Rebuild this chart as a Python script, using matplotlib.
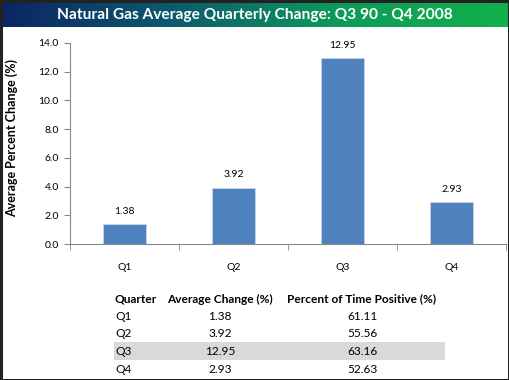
import numpy as np
import matplotlib.pyplot as plt
from matplotlib.colors import LinearSegmentedColormap
from matplotlib.patches import Rectangle

plt.rcParams['font.family'] = ['Lato', 'DejaVu Sans']

quarters = ['Q1', 'Q2', 'Q3', 'Q4']
avg_change = [1.38, 3.92, 12.95, 2.93]
pct_positive = [61.11, 55.56, 63.16, 52.63]
title = 'Natural Gas Average Quarterly Change: Q3 90 - Q4 2008'

W, H = 510, 380
fig = plt.figure(figsize=(W / 100, H / 100), dpi=100, facecolor='white')

def fx(px):
    return px / W

def fy(py):
    return 1 - py / H

# title banner with gradient
ban = fig.add_axes([fx(2), fy(27), fx(506), 25 / H])
grad = LinearSegmentedColormap.from_list('ban', ['#0b2563', '#0b5a6e', '#0f9a5a', '#12b04c'])
ban.imshow(np.linspace(0, 1, 256).reshape(1, -1), aspect='auto', cmap=grad,
           extent=[0, 1, 0, 1])
ban.set_axis_off()
ban.text(0.5, 0.5, title, color='white', fontsize=11.2, fontweight='bold',
         ha='center', va='center', transform=ban.transAxes)

# bar chart
ax = fig.add_axes([fx(70), fy(244), fx(436), 201 / H])
x = np.arange(len(quarters))
bars = ax.bar(x, avg_change, width=0.4, color='#4f81bd', edgecolor='#c7d6ea', linewidth=0.6)
ax.set_xlim(-0.5, 3.5)
ax.set_ylim(0, 14)
ax.set_yticks(np.arange(0, 14.1, 2))
ax.set_yticklabels(['%.1f' % v for v in np.arange(0, 14.1, 2)], fontsize=7.5)
ax.set_xticks(x)
ax.set_xticklabels(quarters, fontsize=7.5)
ax.set_xticks(np.arange(-0.5, 3.6, 1), minor=True)
ax.tick_params(axis='x', which='major', length=0, pad=14)
ax.tick_params(axis='x', which='minor', length=4, color='#888888', direction='out')
ax.tick_params(axis='y', length=4, color='#888888', pad=4)
for s in ['top', 'right']:
    ax.spines[s].set_visible(False)
for s in ['left', 'bottom']:
    ax.spines[s].set_color('#888888')
    ax.spines[s].set_linewidth(0.8)
for b, v in zip(bars, avg_change):
    ax.annotate('%.2f' % v, (b.get_x() + b.get_width() / 2, v), xytext=(0, 6),
                textcoords='offset points', ha='center', va='bottom', fontsize=7.5)
fig.text(fx(12), fy(138), 'Average Percent Change (%)', rotation=90, fontsize=9,
         fontweight='bold', ha='center', va='center')

# table below
fs = 8.6
fig.patches.append(Rectangle((fx(114), fy(360)), fx(331), 18 / H, transform=fig.transFigure,
                             facecolor='#d9d9d9', edgecolor='none'))
fig.text(fx(115), fy(299), 'Quarter', fontsize=fs, fontweight='bold', ha='left', va='center')
fig.text(fx(220), fy(299), 'Average Change (%)', fontsize=fs, fontweight='bold', ha='center', va='center')
fig.text(fx(362), fy(299), 'Percent of Time Positive (%)', fontsize=fs, fontweight='bold', ha='center', va='center')
for i, q in enumerate(quarters):
    yy = fy(316 + i * 17.7)
    fig.text(fx(115), yy, q, fontsize=fs, ha='left', va='center')
    fig.text(fx(220), yy, '%.2f' % avg_change[i], fontsize=fs, ha='center', va='center')
    fig.text(fx(362), yy, '%.2f' % pct_positive[i], fontsize=fs, ha='center', va='center')

# outer frame
fig.patches.append(Rectangle((0.5 / W, 0.5 / H), 1 - 1.5 / W, 1 - 1.5 / H, transform=fig.transFigure,
                             facecolor='none', edgecolor='#222222', linewidth=2.2))

fig.savefig('out.png', dpi=100)
